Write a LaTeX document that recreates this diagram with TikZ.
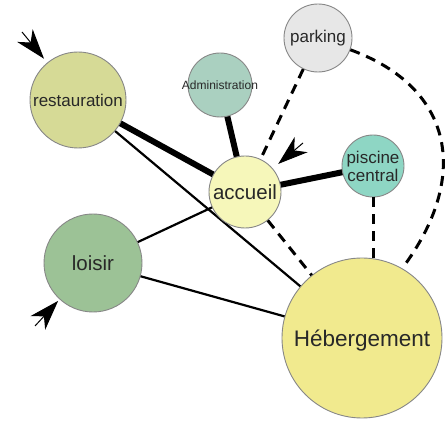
\documentclass[tikz,border=0pt]{standalone}
\usepackage{fontspec}
\setmainfont{Liberation Sans}
\usepackage{tikz}
\usetikzlibrary{arrows.meta}
\definecolor{restfill}{RGB}{214,218,150}
\definecolor{adminfill}{RGB}{170,208,192}
\definecolor{parkfill}{RGB}{231,231,231}
\definecolor{accfill}{RGB}{246,247,186}
\definecolor{piscfill}{RGB}{142,214,196}
\definecolor{loisfill}{RGB}{156,194,150}
\definecolor{hebfill}{RGB}{241,234,142}
\definecolor{rimgray}{RGB}{135,135,135}
\definecolor{textgray}{RGB}{40,40,40}
\tikzset{
  zone/.style={
    circle, draw=rimgray, line width=0.9pt, inner sep=0pt
  },
  zonetext/.style={
    text=textgray, align=center, inner sep=0pt
  },
  strongline/.style={draw=black, line width=6pt},
  weakline/.style={draw=black, line width=2.2pt},
  dashline/.style={draw=black, line width=3pt, dash pattern=on 10pt off 7pt},
  pointer/.style={
    -{Stealth[length=30pt,width=20pt,inset=9pt]},
    draw=black, line width=1pt, shorten >=5pt
  },
}

\begin{document}
\begin{tikzpicture}[x=1pt, y=1pt]

  \useasboundingbox[fill=white] (0,0) rectangle (445,428);

  %% Links (under the circles)
  \draw[weakline] (78,328) coordinate (c-rest) -- (362,90) coordinate (c-heb);
  \draw[weakline] (93,165) coordinate (c-lois) -- (245,236) coordinate (c-acc);
  \draw[weakline] (c-lois) -- (c-heb);
  \draw[strongline] (c-rest) -- (c-acc);
  \draw[strongline] (220,343) coordinate (c-admin) -- (c-acc);
  \draw[strongline] (c-acc) -- (373,262) coordinate (c-pisc);

  %% Zones
  \node[zone, minimum size=96, fill=restfill,
        label={[zonetext, font=\fontsize{17}{19}\selectfont]center:restauration}]
        (restauration) at (c-rest) {};
  \node[zone, minimum size=64, fill=adminfill,
        label={[zonetext, font=\fontsize{12}{14}\selectfont]center:Administration}]
        (admin) at (c-admin) {};
  \node[zone, minimum size=68, fill=parkfill,
        label={[zonetext, font=\fontsize{17}{19}\selectfont]center:parking}]
        (parking) at (318,390) {};
  \node[zone, minimum size=72, fill=accfill,
        label={[zonetext, font=\fontsize{20.5}{22}\selectfont]center:accueil}]
        (accueil) at (c-acc) {};
  \node[zone, minimum size=62, fill=piscfill,
        label={[zonetext, font=\fontsize{17}{18}\selectfont]center:piscine\\central}]
        (piscine) at (c-pisc) {};
  \node[zone, minimum size=98, fill=loisfill,
        label={[zonetext, font=\fontsize{20.5}{22}\selectfont]center:loisir}]
        (loisir) at (c-lois) {};
  \node[zone, minimum size=160, fill=hebfill,
        label={[zonetext, font=\fontsize{22.5}{24}\selectfont, yshift=-3pt]center:Hébergement}]
        (heberg) at (c-heb) {};

  %% Dashed links
  \draw[dashline] (parking) -- (accueil);
  \draw[dashline] (accueil) -- (heberg);
  \draw[dashline] (piscine) -- (piscine |- heberg.north);
  \draw[dashline] (parking.-20) .. controls (455,340) and (470,250) .. (heberg.60);

  %% Entry pointers
  \coordinate (restentry) at (22,396);
  \coordinate (accentry) at (303,285);
  \coordinate (loisentry) at (35,102);
  \draw[pointer] (restentry) -- (restauration);
  \draw[pointer, shorten >=7pt] (accentry) -- (accueil);
  \draw[pointer, shorten >=2pt] (loisentry) -- (loisir);

\end{tikzpicture}
\end{document}
